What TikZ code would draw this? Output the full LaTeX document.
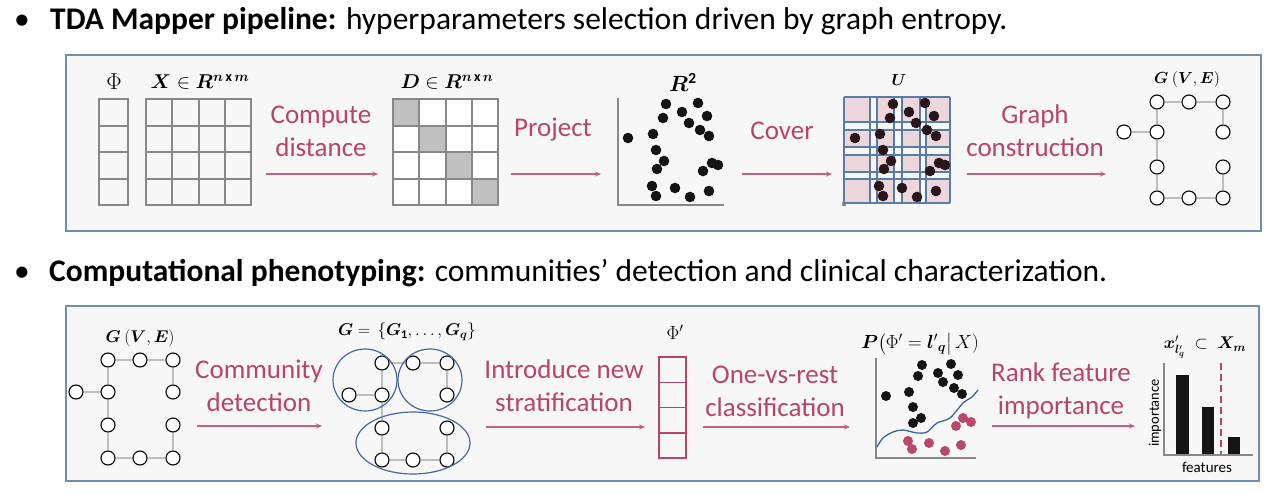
\documentclass[tikz,border=0pt]{standalone}
\usepackage{fix-cm}
\usepackage{amsmath}
\usepackage{bm}
\usepackage{fontspec}
\setmainfont{Carlito}
\usetikzlibrary{arrows.meta}
\definecolor{pinkc}{RGB}{184,68,106}
\definecolor{panelb}{RGB}{112,143,176}
\definecolor{panelf}{RGB}{247,247,247}
\definecolor{cellg}{RGB}{136,136,136}
\definecolor{diagg}{RGB}{192,192,192}
\definecolor{edgeg}{RGB}{190,190,190}
\definecolor{coverb}{RGB}{88,124,163}
\definecolor{coverp}{RGB}{236,214,219}
\definecolor{dotd}{RGB}{40,22,26}
\definecolor{curveb}{RGB}{60,100,165}
\definecolor{ellb}{RGB}{70,105,160}
\definecolor{dotp}{RGB}{184,72,110}
\tikzset{
  panel/.style={draw=panelb,line width=2pt,fill=panelf},
  lbl/.style={text=pinkc,font=\fontsize{27}{33}\selectfont,align=center,inner sep=0},
  arr/.style={draw=pinkc!85,line width=1.1pt,-{Stealth[length=6pt,width=5pt]}},
  cell/.style={draw=cellg,line width=2pt},
  gnode/.style={circle,draw=black,line width=1.1pt,fill=white,minimum size=14pt,inner sep=0},
  gedge/.style={draw=edgeg,line width=1.6pt},
  mlbl/.style={font=\fontsize{20}{24}\selectfont,inner sep=0},
  slbl/.style={font=\fontsize{17}{20}\selectfont,inner sep=0},
  axisln/.style={draw=cellg,line width=2.2pt},
  ttl/.style={font=\fontsize{31.5}{36}\selectfont,inner sep=0},
  ell/.style={draw=ellb,line width=1.2pt}
}
\begin{document}
\begin{tikzpicture}[x=1pt,y=-1pt]
\useasboundingbox (0,0) rectangle (1270,493);
\fill[white] (0,0) rectangle (1270,493);

% ---------- titles ----------
\node[ttl,anchor=base] (bul1) at (22,29) {\textbullet};
\node[ttl,anchor=base west] (t1) at (50,29) {\textbf{TDA Mapper pipeline:} hyperparameters selection driven by graph entropy.};
\node[ttl,anchor=base] (bul2) at (22,281) {\textbullet};
\node[ttl,anchor=base west] (t2) at (49,281) {\textbf{Computational phenotyping:} communities’ detection and clinical characterization.};

% ---------- top panel ----------
\draw[panel] (66,55) rectangle (1261,231);

% Phi column
\foreach \i in {0,...,3} \draw[cell] (99,{99+\i*26.5}) rectangle (128,{99+(\i+1)*26.5});
% X matrix
\foreach \i in {0,...,3} \foreach \j in {0,...,3}
  \draw[cell] ({146+\j*26.25},{99+\i*26.5}) rectangle ++(26.25,26.5);
% D matrix
\foreach \i in {0,...,3} \foreach \j in {0,...,3}{
  \ifnum\i=\j
    \draw[cell,fill=diagg] ({393+\j*26.25},{99+\i*26.5}) rectangle ++(26.25,26.5);
  \else
    \draw[cell,fill=white] ({393+\j*26.25},{99+\i*26.5}) rectangle ++(26.25,26.5);
  \fi}

\node[mlbl,font=\fontsize{23}{26}\selectfont] (phil) at (114,82) {$\Phi$};
\node[mlbl] (xl) at (200,82) {$\bm{X}\in\bm{R}^{\bm{n}\,\mathbf{x}\,\bm{m}}$};
\node[mlbl] (dl) at (447,82) {$\bm{D}\in\bm{R}^{\bm{n}\,\mathbf{x}\,\bm{n}}$};
\node[mlbl,font=\fontsize{22}{26}\selectfont] (r2l) at (683,82) {$\bm{R}^{\mathbf{2}}$};
\node[slbl,font=\fontsize{16}{18}\selectfont] (ul) at (899,80) {$\bm{U}$};
\node[slbl,font=\fontsize{16}{18}\selectfont] (gl1) at (1187,79) {$\bm{G}\ (\bm{V},\bm{E})$};

\node[lbl] (cd) at (321,131) {Compute\\distance};
\node[lbl] (pj) at (553,130) {Project};
\node[lbl] (cv) at (782,131) {Cover};
\node[lbl] (gc) at (1035,131) {Graph\\construction};

\coordinate (a1s) at (266,174); \coordinate (a1e) at (378,174);
\coordinate (a2s) at (511,174); \coordinate (a2e) at (601,174);
\coordinate (a3s) at (742,174); \coordinate (a3e) at (832,174);
\coordinate (a4s) at (967,174); \coordinate (a4e) at (1106,174);
\draw[arr] (a1s) -- (a1e);
\draw[arr] (a2s) -- (a2e);
\draw[arr] (a3s) -- (a3e);
\draw[arr] (a4s) -- (a4e);

% scatter R^2
\draw[axisln] (618,98) -- (618,205) -- (724,205);
\def\dotlist{628/138,666/104,663/118,698/103,682/112,707/116,689/123,700/130,709/136,653/134,656/150,664/161,657/169,712/163,718/165,703/171,652/186,656/196,675/188,690/197,709/191}
\foreach \x/\y in \dotlist \fill[black!92] (\x,\y) circle (5.3pt);

% cover
\foreach \xa/\xb in {844/870,877/894,902/920,926/950}
  \foreach \ya/\yb in {97/122,130/147,155/172,179/203}
    \fill[coverp] (\xa,\ya) rectangle (\xb,\yb);
\foreach \xx in {844,870,877,894,902,920,926,950}
  \draw[coverb,line width=1.3pt] (\xx,97) -- (\xx,203);
\foreach \yy in {97,122,130,147,155,172,179,203}
  \draw[coverb,line width=1.3pt] (844,\yy) -- (950,\yy);
\draw[cellg,line width=1.5pt] (843,202) -- (843,205) -- (846,205);
\foreach \x/\y in \dotlist \fill[dotd] ({\x+227},\y) circle (5.3pt);

% top graph
\node[gnode] (n1) at (1157,102) {};
\node[gnode] (n2) at (1189,102) {};
\node[gnode] (n3) at (1223,102) {};
\node[gnode] (n4) at (1124,132) {};
\node[gnode] (n5) at (1157,132) {};
\node[gnode] (n6) at (1223,132) {};
\node[gnode] (n7) at (1157,167) {};
\node[gnode] (n8) at (1223,167) {};
\node[gnode] (n9) at (1157,198) {};
\node[gnode] (n10) at (1189,198) {};
\node[gnode] (n11) at (1223,198) {};
\draw[gedge] (n1) -- (n2); \draw[gedge] (n2) -- (n3); \draw[gedge] (n3) -- (n6);
\draw[gedge] (n1) -- (n5); \draw[gedge] (n4) -- (n5); \draw[gedge] (n5) -- (n7);
\draw[gedge] (n7) -- (n9); \draw[gedge] (n9) -- (n10); \draw[gedge] (n10) -- (n11);
\draw[gedge] (n11) -- (n8);

% ---------- bottom panel ----------
\draw[panel] (66,306) rectangle (1259,481);

% left graph
\node[gnode] (m1) at (108,360) {};
\node[gnode] (m2) at (140,360) {};
\node[gnode] (m3) at (173,360) {};
\node[gnode] (m4) at (76,392) {};
\node[gnode] (m5) at (108,392) {};
\node[gnode] (m6) at (173,392) {};
\node[gnode] (m7) at (108,425) {};
\node[gnode] (m8) at (173,425) {};
\node[gnode] (m9) at (108,458) {};
\node[gnode] (m10) at (140,458) {};
\node[gnode] (m11) at (173,458) {};
\draw[gedge] (m1) -- (m2); \draw[gedge] (m2) -- (m3); \draw[gedge] (m3) -- (m6);
\draw[gedge] (m1) -- (m5); \draw[gedge] (m4) -- (m5); \draw[gedge] (m5) -- (m7);
\draw[gedge] (m7) -- (m9); \draw[gedge] (m9) -- (m10); \draw[gedge] (m10) -- (m11);
\draw[gedge] (m11) -- (m8);
\node[slbl] (gl2) at (140,338) {$\bm{G}\ (\bm{V},\bm{E})$};

\node[lbl] (comd) at (259,386) {Community\\detection};
\coordinate (b1s) at (197,426); \coordinate (b1e) at (322,426);
\draw[arr] (b1s) -- (b1e);

% communities graph
\node[gnode] (c1) at (382,363) {};
\node[gnode] (c2) at (413,363) {};
\node[gnode] (c3) at (447,363) {};
\node[gnode] (c4) at (349,395) {};
\node[gnode] (c5) at (382,395) {};
\node[gnode] (c6) at (447,395) {};
\node[gnode] (c7) at (382,428) {};
\node[gnode] (c8) at (447,428) {};
\node[gnode] (c9) at (382,460) {};
\node[gnode] (c10) at (413,460) {};
\node[gnode] (c11) at (447,460) {};
\draw[gedge] (c1) -- (c2); \draw[gedge] (c2) -- (c3); \draw[gedge] (c3) -- (c6);
\draw[gedge] (c1) -- (c5); \draw[gedge] (c4) -- (c5); \draw[gedge] (c5) -- (c7);
\draw[gedge] (c7) -- (c9); \draw[gedge] (c9) -- (c10); \draw[gedge] (c10) -- (c11);
\draw[gedge] (c11) -- (c8);
\draw[ell] (365,380) ellipse (32pt and 31pt);
\draw[ell] (430,380) ellipse (32pt and 31pt);
\draw[ell] (413,443) ellipse (57pt and 31pt);
\node[slbl] (gsl) at (407,332) {$\bm{G} = \,\{\bm{G}_{\mathbf{1}}, \dots, \bm{G}_{\bm{q}}\}$};

\node[lbl] (ins) at (564,386) {Introduce new\\stratification};
\coordinate (b2s) at (486,427); \coordinate (b2e) at (645,427);
\draw[arr] (b2s) -- (b2e);

% Phi' column
\foreach \i in {0,...,3} \draw[pinkc,line width=1.5pt] (659,{357+\i*25.25}) rectangle (686,{357+(\i+1)*25.25});
\node[slbl,font=\fontsize{19}{22}\selectfont] (phipl) at (675,332) {$\Phi'$};

\node[lbl] (ovr) at (775,391) {One-vs-rest\\classification};
\coordinate (b3s) at (703,427); \coordinate (b3e) at (850,427);
\draw[arr] (b3s) -- (b3e);

% classification scatter
\node[slbl,font=\fontsize{19}{22}\selectfont] (pl) at (920,344) {$\bm{P}\big(\Phi' = {\bm{l}'}_{\bm{q}}\big|\,X)$};
\draw[axisln] (876,358) -- (876,458) -- (976,458);
\foreach \x/\y in {922/365,951/364,918/376,938/373,958/375,943/382,954/388,962/394,886/396,909/392,913/407,921/418,913/423}
  \fill[black!92] (\x,\y) circle (5pt);
\foreach \x/\y in {963/418,971/422,956/426,908/441,912/449,929/443,945/451,961/445}
  \fill[dotp] (\x,\y) circle (5pt);
\draw[curveb,line width=1.3pt] plot[smooth] coordinates {(877,447) (883,438) (893,432) (903,430) (917,433) (927,432) (937,423) (950,418) (963,403) (972,397) (978,390)};

\node[lbl] (rfi) at (1061,391) {Rank feature\\importance};
\coordinate (b4s) at (992,426); \coordinate (b4e) at (1135,426);
\draw[arr] (b4s) -- (b4e);

% bar chart
\draw[axisln] (1164,363) -- (1164,455) -- (1253,455);
\fill[black!92] (1176,375) rectangle (1189,454);
\fill[black!92] (1202,407) rectangle (1214,454);
\fill[black!92] (1228,437) rectangle (1240,454);
\draw[pinkc,line width=2pt,dash pattern=on 7pt off 4pt] (1221,363) -- (1221,454);
\node[font=\fontsize{14.5}{16}\selectfont,rotate=90,inner sep=0] (impl) at (1155,413) {importance};
\node[font=\fontsize{15}{17}\selectfont,inner sep=0] (featl) at (1207,467) {features};
\node[slbl,font=\fontsize{17}{20}\selectfont] (xlm) at (1205,347) {$\bm{x}'_{\bm{l}'_{\bm{q}}}\;\subset\;\bm{X}_{\bm{m}}$};
\end{tikzpicture}
\end{document}
